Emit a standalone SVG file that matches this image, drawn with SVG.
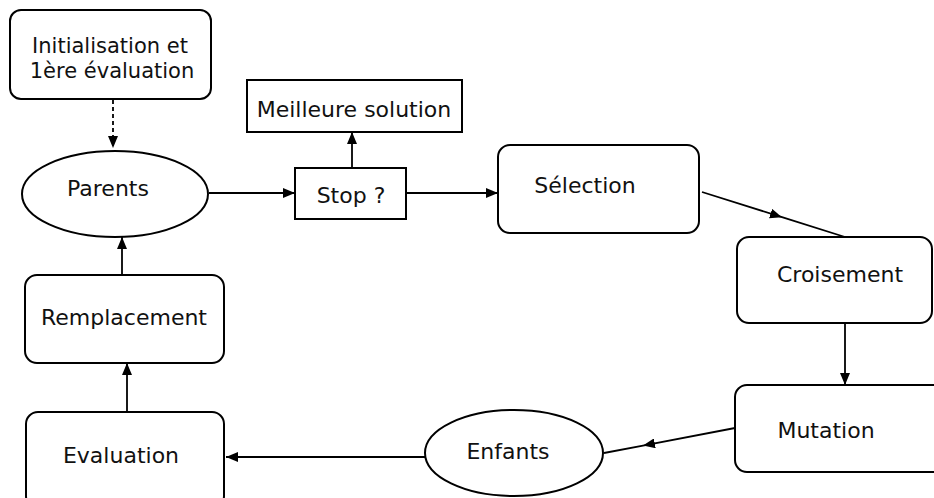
<svg xmlns="http://www.w3.org/2000/svg" width="934" height="498" viewBox="0 0 934 498">
<style>
.box{fill:#fff;stroke:#000;stroke-width:2}
.t{font-family:"DejaVu Sans",sans-serif;font-size:22px;fill:#111;text-anchor:middle}
.s{font-size:21px}
.c{fill:none;stroke:#000;stroke-width:1.8}
</style>
<defs>
<marker id="ah" viewBox="0 0 12 10" refX="12" refY="5" markerWidth="12" markerHeight="10" markerUnits="userSpaceOnUse" orient="auto">
<path d="M0,0 L12,5 L0,10 Z" fill="#000"/>
</marker>
</defs>
<rect width="934" height="498" fill="#fff"/>
<g id="connectors">
<path class="c" d="M113,100 L113,148" stroke-dasharray="4,3" marker-end="url(#ah)"/>
<path class="c" d="M209,193 L295,193" marker-end="url(#ah)"/>
<path class="c" d="M352,168 L352,132" marker-end="url(#ah)"/>
<path class="c" d="M406,193 L498,193" marker-end="url(#ah)"/>
<path class="c" d="M702,192 L782,217.2 L845,237" marker-mid="url(#ah)"/>
<path class="c" d="M845,323 L845,385" marker-end="url(#ah)"/>
<path class="c" d="M735,428 L643,445.6 L604,453" marker-mid="url(#ah)"/>
<path class="c" d="M425,457 L226,457" marker-end="url(#ah)"/>
<path class="c" d="M127,412 L127,363" marker-end="url(#ah)"/>
<path class="c" d="M122,275 L122,237" marker-end="url(#ah)"/>
</g>
<g id="init"><rect class="box" x="10" y="10" width="201" height="89" rx="11"/><text class="t s" x="110" y="53">Initialisation et</text><text class="t s" x="112" y="78">1ère évaluation</text></g>
<g id="meilleure"><rect class="box" x="247" y="80" width="215" height="52"/><text class="t" x="354" y="117">Meilleure solution</text></g>
<g id="parents"><ellipse class="box" cx="115" cy="194" rx="93" ry="43"/><text class="t" x="108" y="196">Parents</text></g>
<g id="stop"><rect class="box" x="295" y="168" width="111" height="51"/><text class="t" x="351" y="203">Stop ?</text></g>
<g id="selection"><rect class="box" x="498" y="145" width="201" height="88" rx="12"/><text class="t" x="585" y="193">Sélection</text></g>
<g id="croisement"><rect class="box" x="737" y="237" width="195" height="86" rx="12"/><text class="t" x="840" y="282">Croisement</text></g>
<g id="mutation"><rect class="box" x="735" y="385" width="210" height="87" rx="12"/><text class="t" x="826" y="438">Mutation</text></g>
<g id="enfants"><ellipse class="box" cx="514" cy="453" rx="89" ry="43"/><text class="t" x="508" y="459">Enfants</text></g>
<g id="evaluation"><rect class="box" x="26" y="412" width="198" height="96" rx="12"/><text class="t" x="121" y="463">Evaluation</text></g>
<g id="remplacement"><rect class="box" x="25" y="275" width="199" height="88" rx="12"/><text class="t" x="124" y="325">Remplacement</text></g>
</svg>
